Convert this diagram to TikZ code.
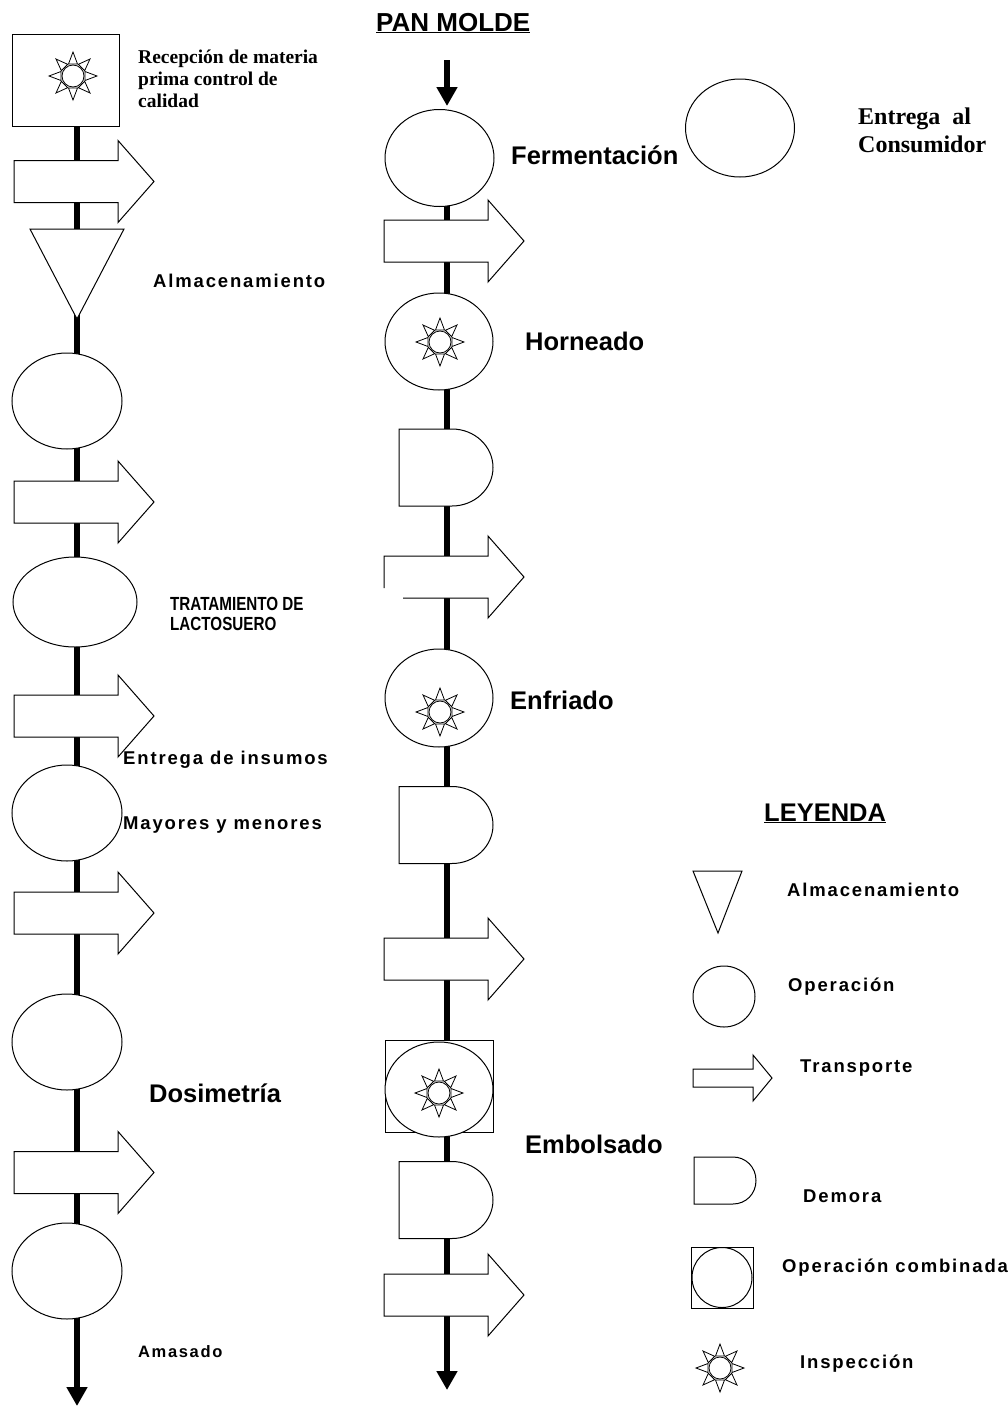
\documentclass[tikz,border=0pt]{standalone}
\usepackage{fontspec}
\setmainfont{Liberation Serif}
\newfontfamily\sansf{Liberation Sans}
\newfontfamily\sansls{Liberation Sans}[LetterSpace=10]
\usetikzlibrary{arrows.meta}
\tikzset{
  outl/.style={draw=black,line width=1pt,line join=miter},
  flow/.style={line width=6pt,-{Triangle[width=20pt,length=19pt]}},
  big/.style={font=\sansf\bfseries\fontsize{25.5}{28}\selectfont,anchor=west,inner sep=0pt},
  small/.style={font=\sansls\bfseries\fontsize{18.5}{20}\selectfont,anchor=west,inner sep=0pt},
  serif/.style={font=\rmfamily\bfseries\fontsize{19.5}{22}\selectfont,anchor=west,inner sep=0pt,align=left},
  transp/.pic={\draw[outl,fill=white] (-63,-21) -- (41,-21) -- (41,-41) -- (77,0) -- (41,41) -- (41,21) -- (-63,21) -- cycle;},
  transpgap/.pic={\fill[white] (-63,-21) -- (41,-21) -- (41,-41) -- (77,0) -- (41,41) -- (41,21) -- (-63,21) -- cycle;
     \draw[outl] (-63,11) -- (-63,-21) -- (41,-21) -- (41,-41) -- (77,0) -- (41,41) -- (41,21) -- (-44,21);},
  delay/.pic={\draw[outl,fill=white] (-48,-38.5) -- (5,-38.5) .. controls (27.6,-38.5) and (46,-21.3) .. (46,0) .. controls (46,21.3) and (27.6,38.5) .. (5,38.5) -- (-48,38.5) -- cycle;},
  inspec/.pic={\draw[outl,line width=0.8pt] (0,0) circle[radius=11];
     \foreach \a in {0,45,...,315}{\draw[outl,line width=0.8pt,rotate=\a] (12,-4.5) -- (24,0) -- (12,4.5) -- cycle;}}
}
\begin{document}
\begin{tikzpicture}[x=1pt,y=-1pt]
\path[fill=white] (0,0) rectangle (1008,1408);
\useasboundingbox (0,0) rectangle (1008,1408);

% ---------- left column ----------
\coordinate (Ltop) at (77,126);
\coordinate (Lend) at (77,1406);
\draw[flow] (Ltop) -- (Lend);
\draw[outl,fill=white] (12,34) rectangle (119,126);
\pic at (73,76) {inspec};
\pic at (77,181.5) {transp};
\draw[outl,fill=white] (30,229) -- (124,229) -- (77,319) -- cycle;
\draw[outl,fill=white] (67,401) ellipse[x radius=55,y radius=48];
\pic at (77,502) {transp};
\draw[outl,fill=white] (75,602) ellipse[x radius=62,y radius=45];
\pic at (77,716) {transp};
\draw[outl,fill=white] (67,813) ellipse[x radius=55,y radius=48];
\pic at (77,913) {transp};
\draw[outl,fill=white] (67,1042) ellipse[x radius=55,y radius=48];
\pic at (77,1172.5) {transp};
\draw[outl,fill=white] (67,1271) ellipse[x radius=55,y radius=48];

\node[serif] (trecep) at (138,79) {Recepción de materia\\prima control de\\calidad};
\node[small] (talm) at (153,281) {Almacenamiento};
\node[anchor=west,inner sep=0pt,font=\sansf\bfseries\fontsize{19}{20}\selectfont,align=left] (ttrat) at (170,614) {\scalebox{0.8}[1]{TRATAMIENTO DE}\\\scalebox{0.8}[1]{LACTOSUERO}};
\node[small] (tent) at (123,760) {Entrega de insumos};
\node[small] (tmay) at (123,825) {Mayores y menores};
\node[big] (tdos) at (149,1093) {Dosimetría};
\node[small,font=\sansls\bfseries\fontsize{16.5}{18}\selectfont] (tamas) at (138,1352) {Amasado};

% ---------- middle column ----------
\coordinate (Mstart) at (447,60);
\coordinate (Mtip) at (447,106);
\draw[flow] (Mstart) -- (Mtip);
\coordinate (Mtop) at (447,200);
\coordinate (Mend) at (447,1390);
\draw[flow] (Mtop) -- (Mend);
\draw[outl,fill=white] (439.5,158) ellipse[x radius=54.5,y radius=48.5];
\pic at (447,241) {transp};
\draw[outl,fill=white] (439,341.5) ellipse[x radius=54,y radius=48.5];
\pic at (440,342) {inspec};
\pic at (447,467.5) {delay};
\pic at (447,577) {transpgap};
\draw[outl,fill=white] (439,698) ellipse[x radius=54,y radius=49];
\pic at (440,712) {inspec};
\pic at (447,825) {delay};
\pic at (447,959) {transp};
\draw[outl,fill=white] (385,1040) rectangle (493,1132);
\draw[outl,fill=white] (439,1089.5) ellipse[x radius=54,y radius=47.5];
\pic at (439,1093) {inspec};
\pic at (447,1200) {delay};
\pic at (447,1295) {transp};

\node[big,font=\sansf\bfseries\fontsize{26}{28}\selectfont,anchor=base west] (tpan) at (376,31) {\underline{PAN MOLDE}};
\node[big] (tfer) at (511,155) {Fermentación};
\node[big] (thor) at (525,341) {Horneado};
\node[big] (tenf) at (510,700) {Enfriado};
\node[big] (temb) at (525,1144) {Embolsado};

% ---------- right ----------
\draw[outl,fill=white] (740,128) ellipse[x radius=54.5,y radius=49];
\node[serif,font=\rmfamily\bfseries\fontsize{24}{28}\selectfont] (tcons) at (858,130) {Entrega\ \ al\\Consumidor};

% ---------- legend ----------
\node[big,anchor=base west] (tley) at (764,821) {\underline{LEYENDA}};
\draw[outl,fill=white] (693,871) -- (742,871) -- (718,933) -- cycle;
\draw[outl,fill=white] (724,996.5) ellipse[x radius=31,y radius=30.5];
\draw[outl,fill=white] (693,1069) -- (753,1069) -- (753,1055) -- (772,1078) -- (753,1101) -- (753,1087) -- (693,1087) -- cycle;
\draw[outl,fill=white] (694,1157) -- (733,1157) .. controls (745.7,1157) and (756,1167) .. (756,1180.5) .. controls (756,1194) and (745.7,1204) .. (733,1204) -- (694,1204) -- cycle;
\draw[outl,fill=white] (691,1247) rectangle (753,1308);
\draw[outl] (722,1277.5) ellipse[x radius=30,y radius=30];
\pic at (720,1368) {inspec};

\node[small] (lalm) at (787,890) {Almacenamiento};
\node[small] (lop) at (788,987) {Operación};
\node[small] (ltr) at (800,1068) {Transporte};
\node[small] (ldem) at (803,1196) {Demora};
\node[small] (lcomb) at (782,1268) {Operación combinada};
\node[small] (lins) at (800,1364) {Inspección};
\end{tikzpicture}
\end{document}
